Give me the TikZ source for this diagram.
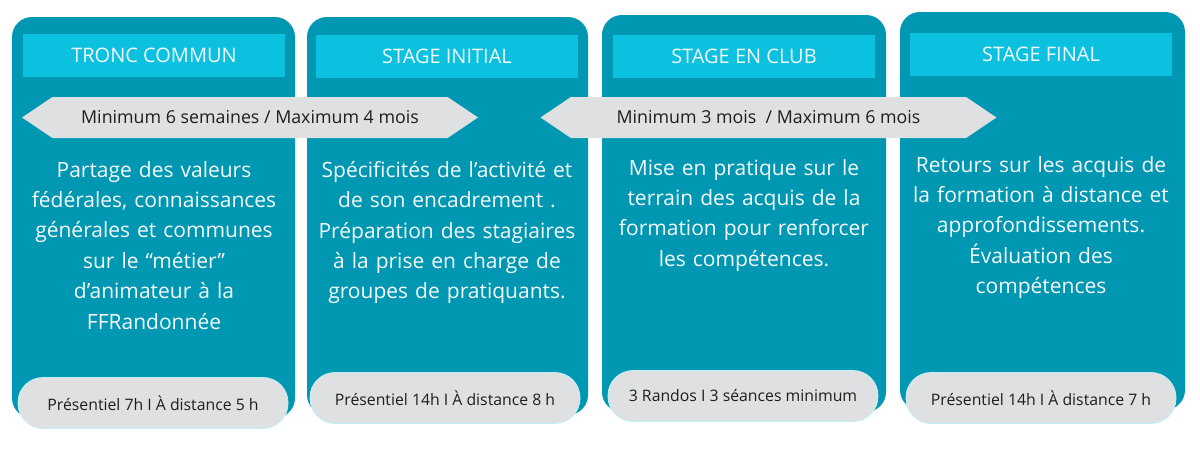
\documentclass[tikz,border=0pt]{standalone}
\usepackage{fontspec}
\setmainfont{Open Sans}
\usepackage{xcolor}
\usetikzlibrary{shapes.arrows,positioning}
\definecolor{panelblue}{HTML}{0097B2}
\definecolor{headcyan}{HTML}{0CC0DF}
\definecolor{pillgrey}{HTML}{DFE0E1}
\definecolor{inkgrey}{HTML}{1E1E1E}
\tikzset{
  panel/.style={fill=panelblue, rounded corners=20pt, inner sep=0pt},
  header/.style={fill=headcyan, text=white!94!headcyan, minimum width=262pt, minimum height=43pt,
    inner sep=0pt, font=\fontsize{20}{24}\selectfont},
  duree/.style={shape=double arrow, double arrow head extend=0pt, double arrow tip angle=68,
    fill=pillgrey, text=inkgrey, minimum width=41pt, minimum height=456pt, inner sep=0pt,
    font=\fontsize{17.8}{21}\selectfont},
  body/.style={text=white!96!panelblue, align=center, text width=280pt, inner sep=0pt, anchor=north,
    font=\fontsize{21}{30.4}\selectfont},
  pill/.style={fill=pillgrey, draw=headcyan!25, line width=0.8pt, rounded corners=25pt,
    minimum width=270pt, minimum height=51pt, inner sep=0pt, text=inkgrey,
    font=\fontsize{15.8}{19}\selectfont}
}
\begin{document}
\begin{tikzpicture}[x=1pt,y=-1pt]
  \useasboundingbox (0,0) rectangle (1200,450);
  % panneaux
  \node[panel, minimum width=283pt, minimum height=401pt] (P1) at (153.5,217.5) {};
  \node[panel, minimum width=281pt, minimum height=398pt] (P2) at (447.5,216) {};
  \node[panel, minimum width=284pt, minimum height=397pt] (P3) at (744,213.5) {};
  \node[panel, minimum width=285pt, minimum height=398pt] (P4) at (1042.5,211) {};
  % titres
  \node[header] (H1) at (154,55) {TRONC COMMUN};
  \node[header] (H2) at (447,56) {STAGE INITIAL};
  \node[header] (H3) at (744,56) {STAGE EN CLUB};
  \node[header] (H4) at (1041,54) {STAGE FINAL};
  % durees
  \node[duree] (D1) at (250,117.5) {Minimum 6 semaines / Maximum 4 mois};
  \node[duree] (D2) at (768.5,117.5) {Minimum 3 mois \ / Maximum 6 mois};
  % textes
  \node[body] (B1) at (154,161) {Partage des valeurs\\ fédérales, connaissances\\ générales et communes\\ sur le “métier”\\ d’animateur à la\\ FFRandonnée};
  \node[body] (B2) at (447,161) {Spécificités de l’activité et\\ de son encadrement .\\ Préparation des stagiaires\\ à la prise en charge de\\ groupes de pratiquants.};
  \node[body] (B3) at (744,159) {Mise en pratique sur le\\ terrain des acquis de la\\ formation pour renforcer\\ les compétences.};
  \node[body] (B4) at (1041,156) {Retours sur les acquis de\\ la formation à distance et\\ approfondissements.\\ Évaluation des\\ compétences};
  % volumes
  \node[pill] (V1) at (153,403) {Présentiel 7h I À distance 5 h};
  \node[pill] (V2) at (445,398) {Présentiel 14h I À distance 8 h};
  \node[pill] (V3) at (743,396) {3 Randos I 3 séances minimum};
  \node[pill] (V4) at (1041,398) {Présentiel 14h I À distance 7 h};
\end{tikzpicture}
\end{document}
